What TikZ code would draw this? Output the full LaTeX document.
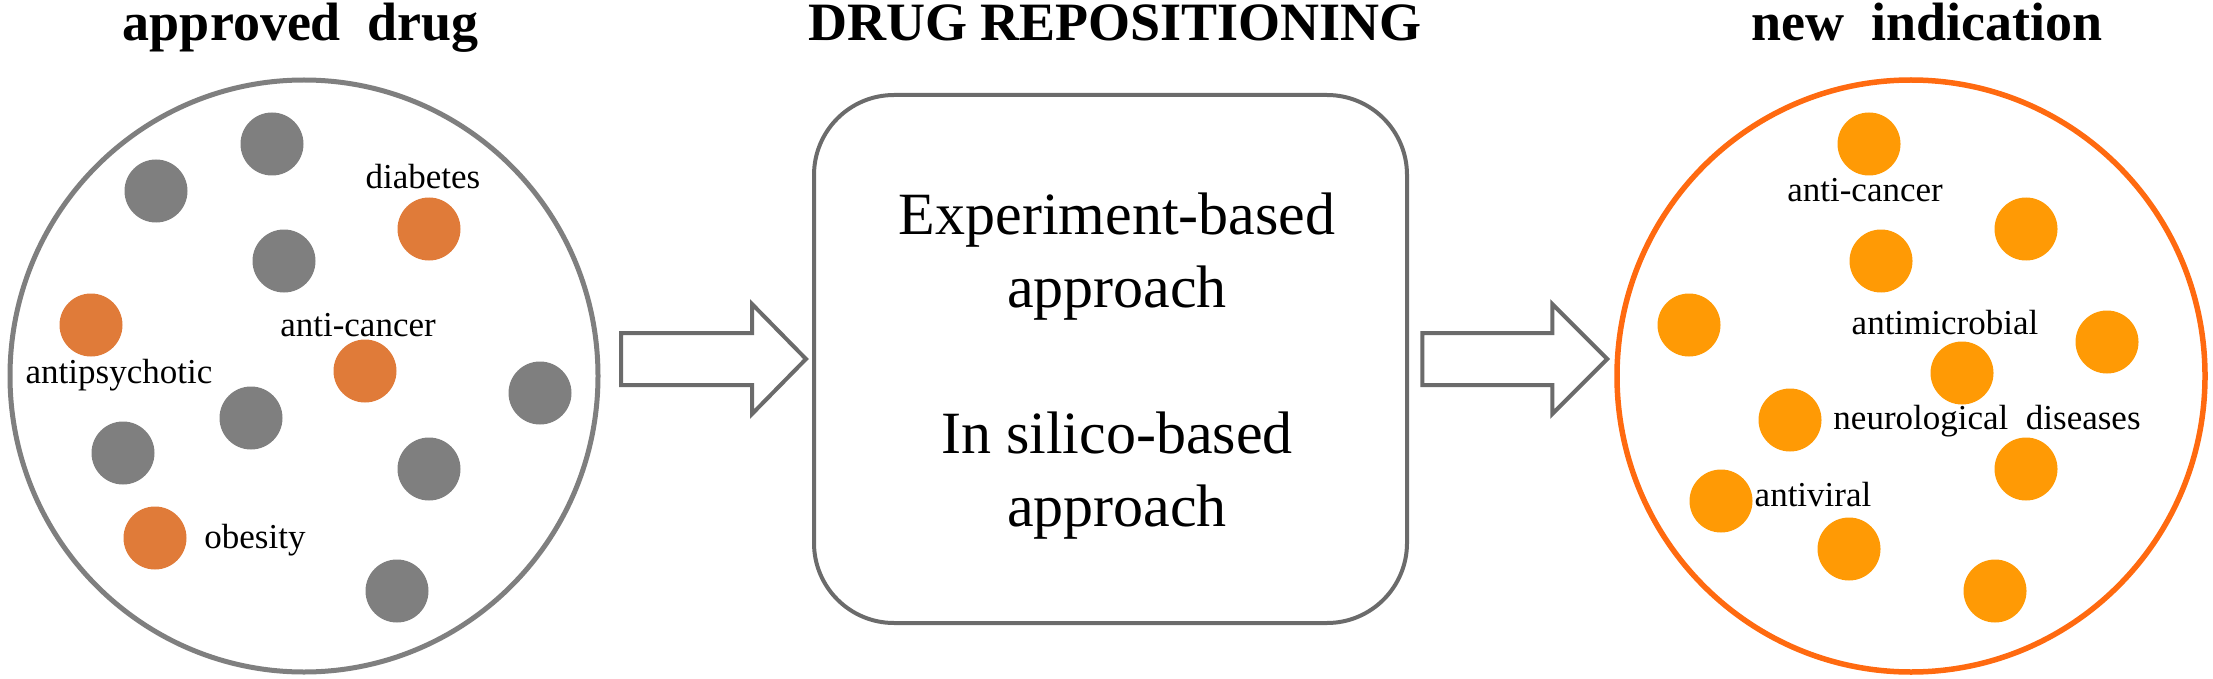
\documentclass[tikz,border=0pt]{standalone}
\usepackage{fontspec}
\setmainfont{Liberation Serif}
\usetikzlibrary{shapes.geometric,positioning}
\definecolor{dotgray}{HTML}{7F7F7F}
\definecolor{oldorange}{HTML}{E07B39}
\definecolor{neworange}{HTML}{FF9A05}
\definecolor{ringorange}{HTML}{FF6A10}
\definecolor{linegray}{HTML}{6B6B6B}
\tikzset{
    graydot/.style={circle,fill=dotgray,minimum size=63pt,inner sep=0pt},
    olddot/.style={graydot,fill=oldorange},
    newdot/.style={graydot,fill=neworange},
    ring/.style={ellipse,draw=dotgray,line width=5pt,minimum width=588pt,minimum height=592pt,inner sep=0pt},
    headtext/.style={anchor=base,inner sep=0pt,font=\fontsize{54}{60}\selectfont\bfseries},
    usetext/.style={anchor=base,inner sep=0pt,font=\fontsize{35}{42}\selectfont},
    approachbox/.style={draw=linegray,line width=4pt,rounded corners=80pt,minimum width=593pt,minimum height=528pt},
    blockarrow/.style={draw=linegray,line width=4pt,fill=white}
}
\begin{document}
\begin{tikzpicture}[x=1pt,y=-1pt]
            \useasboundingbox (0,0) rectangle (2213,679);
            % Approved drugs
            \node[ring] (approved) at (304,376) {};
            \node[headtext] (approvedtitle) at (301,41) {approved\ \ drug};
            \node[graydot] (g1) at (272,144) {};
            \node[graydot] (g2) at (156,191) {};
            \node[graydot] (g3) at (284,261) {};
            \node[graydot] (g4) at (251,418) {};
            \node[graydot] (g5) at (123,453) {};
            \node[graydot] (g6) at (540,393) {};
            \node[graydot] (g7) at (429,469) {};
            \node[graydot] (g8) at (397,591) {};
            \node[olddot] (diabetes) at (429,229) {};            % diabetes
            \node[olddot] (psychotic) at (91,325) {};            % antipsychotic
            \node[olddot] (cancer) at (365,371) {};              % anti-cancer
            \node[olddot] (obesity) at (155,538) {};             % obesity
            \node[usetext] (diabeteslabel) at (423,189) {diabetes};
            \node[usetext] (cancerlabel) at (358,336) {anti-cancer};
            \node[usetext] (psychoticlabel) at (119,383) {antipsychotic};
            \node[usetext] (obesitylabel) at (255,548) {obesity};
            % Repositioning
            \node[approachbox] (box) at (1110.5,359) {};
            \node[headtext] (repotitle) at (1115,41) {DRUG REPOSITIONING};
            \node[anchor=north,inner sep=0pt,align=center,font=\fontsize{60}{73}\selectfont] (methods)
                at (1117,193) {Experiment-based\\approach\\[73pt]In silico-based\\approach};
            % New indications
            \node[ring,draw=ringorange,line width=5.5pt] (indication) at (1911,376) {};
            \node[headtext] (indicationtitle) at (1927,41) {new\ \ indication};
            \node[newdot] (r1) at (1869,144) {};
            \node[newdot] (r2) at (2026,229) {};
            \node[newdot] (r3) at (1881,261) {};
            \node[newdot] (r4) at (1689,325) {};
            \node[newdot] (r5) at (2107,342) {};
            \node[newdot] (r6) at (1962,373) {};
            \node[newdot] (r7) at (1790,420) {};
            \node[newdot] (r8) at (2026,469) {};
            \node[newdot] (r9) at (1721,501) {};
            \node[newdot] (r10) at (1849,549) {};
            \node[newdot] (r11) at (1995,591) {};
            \node[usetext] (newcancer) at (1865,202) {anti-cancer};
            \node[usetext] (microbial) at (1945,334) {antimicrobial};
            \node[usetext] (neuro) at (1987,429) {neurological\ \ diseases};
            \node[usetext] (viral) at (1813,506) {antiviral};
            % Block arrows
            \coordinate (tipL) at ([xshift=-6pt]box.west);
            \coordinate (tipR) at ([xshift=-7pt]indication.west |- tipL);
            \draw[blockarrow] (tipL) -- ++(-54,-55) -- ++(0,29) -- ++(-131,0)
                -- ++(0,52) -- ++(131,0) -- ++(0,29) -- cycle;
            \draw[blockarrow] (tipR) -- ++(-55,-55) -- ++(0,29) -- ++(-130,0)
                -- ++(0,52) -- ++(130,0) -- ++(0,29) -- cycle;
        \end{tikzpicture}
\end{document}
